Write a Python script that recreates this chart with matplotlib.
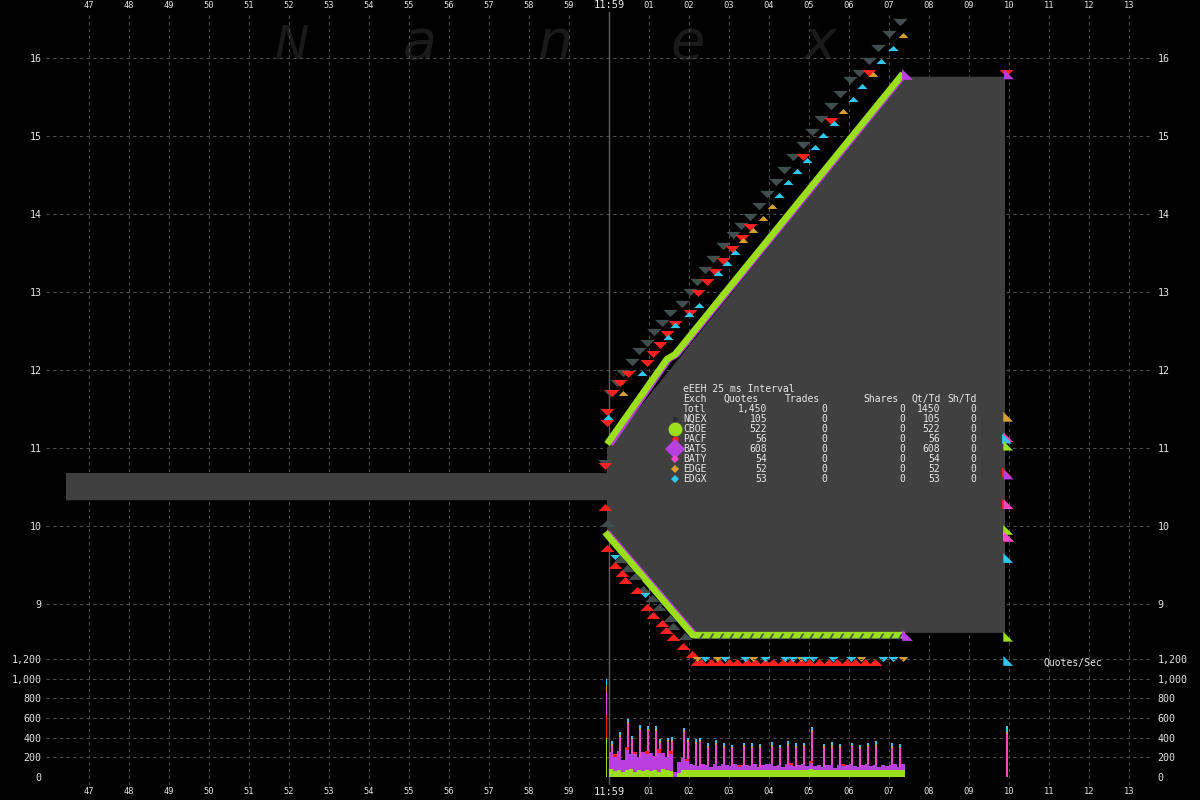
import numpy as np
import matplotlib
matplotlib.use('Agg')
import matplotlib.pyplot as plt
from matplotlib.ticker import FuncFormatter

plt.rcParams['font.family'] = ['DejaVu Sans Mono']

# exchange colours
COLORS = {
    'NQEX': '#424d4d',
    'CBOE': '#9ade1c',
    'PACF': '#ff2020',
    'BATS': '#b840e0',
    'BATY': '#ff44cc',
    'EDGE': '#d8a030',
    'EDGX': '#30c8f0',
}

# x axis: seconds around 11:59 (0 = "11:59" label)
x_ticks = list(range(-13, 14))
x_labels = ['47', '48', '49', '50', '51', '52', '53', '54', '55', '56', '57', '58', '59',
            '11:59', '01', '02', '03', '04', '05', '06', '07', '08', '09', '10', '11', '12', '13']
price_ticks = [9, 10, 11, 12, 13, 14, 15, 16]
vol_ticks = [0, 200, 400, 600, 800, 1000, 1200]

# NBBO spread (gray area)
nbo_t = [-13.575, -0.05, -0.05, 7.4, 9.9]
nbo_p = [10.68, 10.68, 11.0, 15.76, 15.76]
nbb_t = [-13.575, -0.05, -0.05, 2.15, 9.9]
nbb_p = [10.33, 10.33, 9.93, 8.63, 8.63]

# CBOE / BATS quote lines
cboe_ask_t = [-0.05, 1.45, 1.65, 7.35]
cboe_ask_p = [11.05, 12.14, 12.2, 15.8]
cboe_bid_t = [-0.1, 2.1, 7.4]
cboe_bid_p = [9.92, 8.6, 8.6]
bats_ask_t = [0.03, 1.5, 1.7, 7.4]
bats_ask_p = [11.05, 12.14, 12.2, 15.8]
bats_bid_t = [-0.05, 2.15, 7.4]
bats_bid_p = [9.92, 8.6, 8.6]

# NQEX quotes
nqex_ask_t = [-0.1, 0.025, 0.2, 0.35, 0.575, 0.75, 0.95, 1.125, 1.325, 1.525, 1.825, 2.025,
              2.2, 2.4, 2.6, 2.85, 3.1, 3.3, 3.525, 3.75, 3.95, 4.175, 4.375, 4.6, 4.85,
              5.075, 5.3, 5.55, 5.775, 6.025, 6.25, 6.5, 6.725, 7.0, 7.275]
nqex_ask_p = [10.81, 11.71, 11.83, 11.96, 12.10, 12.24, 12.35, 12.49, 12.60, 12.73, 12.85, 13.00,
              13.13, 13.28, 13.42, 13.59, 13.73, 13.85, 13.96, 14.10, 14.26, 14.41, 14.56, 14.73, 14.88,
              15.05, 15.22, 15.38, 15.54, 15.72, 15.81, 15.96, 16.13, 16.31, 16.46]
nqex_bid_t = [-0.05, 0.275, 0.45, 0.65, 0.85, 1.075, 1.25, 1.525, 1.6, 1.9]
nqex_bid_p = [10.04, 9.58, 9.46, 9.36, 9.19, 9.08, 8.96, 8.82, 8.72, 8.59]
nqex_flat_t = [2.3, 2.55, 2.8, 3.05, 3.3, 3.55, 3.8, 4.05, 4.3, 4.55, 4.8, 5.05, 5.3,
               5.55, 5.8, 6.05, 6.3, 6.55, 6.8, 7.05, 7.28]
nqex_flat_p = [8.59] * 21

# PACF quotes
pacf_ask_t = [-0.1, -0.05, -0.05, 0.075, 0.275, 0.475, 0.95, 1.1, 1.275, 1.45, 1.65, 2.025,
              2.225, 2.45, 2.65, 2.85, 3.075, 3.325, 3.525, 4.85, 5.55, 6.5, 9.92]
pacf_ask_p = [10.77, 11.46, 11.32, 11.71, 11.83, 11.95, 12.09, 12.21, 12.32, 12.46, 12.59, 12.73,
              12.99, 13.13, 13.26, 13.40, 13.55, 13.69, 13.83, 14.73, 15.19, 15.81, 15.81]
pacf_bid_t = [-0.1, -0.05, 0.15, 0.325, 0.4, 0.7, 0.95, 1.1, 1.325, 1.425, 1.6, 1.85, 2.075, 2.2,
              2.3, 2.55, 2.75, 3.0, 3.2, 3.45, 3.65, 3.9, 4.1, 4.35, 4.55, 4.8, 5.0, 5.25,
              5.5, 5.7, 5.95, 6.15, 6.4, 6.65]
pacf_bid_p = [10.24, 9.72, 9.50, 9.40, 9.31, 9.18, 8.96, 8.86, 8.76, 8.67, 8.58, 8.46, 8.36, 8.26,
              8.26, 8.26, 8.26, 8.26, 8.26, 8.26, 8.26, 8.26, 8.26, 8.26, 8.26, 8.26, 8.26, 8.26,
              8.26, 8.26, 8.26, 8.26, 8.26, 8.26]

# EDGX / EDGE quotes
edgx_ask_t = [-0.025, 0.825, 1.475, 1.65, 2.0, 2.25, 2.725, 2.95, 3.15, 4.25, 4.475, 4.7,
              4.95, 5.15, 5.35, 5.625, 6.1, 6.325, 6.8, 7.1]
edgx_ask_p = [11.40, 11.96, 12.42, 12.58, 12.72, 12.83, 13.24, 13.37, 13.51, 14.24, 14.41, 14.55,
              14.69, 14.86, 15.01, 15.17, 15.47, 15.64, 15.96, 16.13]
edgx_bid_t = [0.15, 0.9, 2.4, 2.9, 3.4, 3.9, 4.4, 4.6, 4.9, 5.1, 5.6, 6.05, 6.85, 7.1]
edgx_bid_p = [9.60, 9.12, 8.29, 8.29, 8.29, 8.29, 8.29, 8.29, 8.29, 8.29, 8.29, 8.29, 8.29, 8.29]
edge_ask_t = [0.35, 3.35, 3.6, 3.85, 4.075, 5.85, 6.6, 7.35]
edge_ask_p = [11.71, 13.67, 13.79, 13.95, 14.10, 15.32, 15.79, 16.29]
edge_bid_t = [2.2, 2.7, 3.6, 4.8, 6.3, 7.35]
edge_bid_p = [8.29, 8.29, 8.29, 8.29, 8.29, 8.29]

# last quotes near second 10
late_exch = ['EDGE', 'BATY', 'EDGX', 'CBOE', 'PACF', 'BATS', 'PACF', 'BATY',
             'CBOE', 'CBOE', 'BATY', 'EDGX', 'CBOE', 'EDGX', 'BATS']
late_t = [9.98, 9.98, 9.95, 9.98, 9.95, 9.99, 9.95, 9.99,
          9.98, 9.98, 10.0, 9.98, 9.98, 9.98, 10.0]
late_p = [11.40, 11.14, 11.12, 11.03, 10.69, 10.66, 10.28, 10.28,
          9.95, 9.87, 9.86, 9.59, 8.58, 8.27, 15.79]

# quotes per interval (0.1 s bins starting at 11:59)
cboe_vol = [80, 60, 75, 55, 70, 80, 50, 75, 65, 70,
            60, 75, 55, 80, 70, 65, 0, 40, 75, 70,
            75, 70, 75, 75, 70, 75, 75, 70, 75, 75,
            70, 75, 75, 70, 75, 75, 75, 70, 75, 75,
            75, 70, 75, 75, 75, 70, 75, 75, 70, 75,
            80, 75, 70, 75, 75, 75, 70, 75, 75, 75,
            75, 70, 75, 75, 75, 70, 75, 75, 75, 70,
            75, 75, 70, 75]
bats_vol = [170, 140, 190, 120, 200, 150, 180, 130, 190, 160,
            180, 140, 190, 160, 130, 170, 50, 110, 120, 90,
            60, 50, 40, 60, 50, 30, 60, 40, 55, 45,
            40, 60, 30, 55, 45, 40, 60, 35, 50, 60,
            55, 40, 50, 30, 60, 55, 40, 45, 60, 35,
            60, 40, 55, 30, 50, 45, 25, 50, 40, 45,
            55, 45, 30, 50, 55, 40, 45, 30, 50, 40,
            45, 55, 35, 55]
pacf_vol = [0, 30, 0, 0, 40, 0, 25, 0, 0, 30,
            0, 0, 35, 0, 0, 30, 0, 0, 0, 20,
            0, 0, 0, 0, 0, 0, 0, 0, 0, 0,
            0, 0, 20, 0, 0, 0, 0, 0, 0, 0,
            0, 0, 0, 0, 0, 15, 0, 0, 0, 0,
            20, 0, 0, 0, 0, 0, 0, 0, 15, 0,
            0, 0, 0, 0, 0, 0, 0, 0, 0, 0,
            0, 0, 0, 0]
spike_bin = [0, 2, 4, 5, 7, 9, 11, 12, 14, 15, 18, 19, 21, 22, 24, 26, 28, 30,
             33, 35, 37, 40, 42, 44, 46, 48, 50, 53, 55, 57, 60, 62, 64, 66, 70, 72]
spike_baty = [70, 140, 230, 155, 270, 210, 255, 70, 155, 90, 260, 180, 220, 240, 180, 190, 170, 185,
              180, 175, 190, 180, 170, 185, 180, 175, 300, 190, 180, 170, 185, 180, 175, 190, 180, 185]
spike_edge = [20, 25, 20, 15, 25, 20, 20, 15, 20, 25, 20, 15, 20, 20, 20, 25, 20, 15,
              20, 25, 20, 20, 15, 20, 25, 20, 20, 20, 25, 20, 15, 20, 20, 25, 20, 20]
spike_edgx = [25, 30, 25, 20, 30, 25, 25, 20, 25, 30, 25, 20, 25, 25, 25, 30, 25, 20,
              25, 30, 25, 25, 20, 25, 30, 25, 30, 25, 30, 25, 20, 25, 25, 30, 25, 25]
extra_t = [-0.06, 9.95]
extra_cboe = [400, 0]
extra_pacf = [230, 0]
extra_baty = [235, 440]
extra_edge = [60, 20]
extra_edgx = [75, 60]

# legend table
leg_exch = ['NQEX', 'CBOE', 'PACF', 'BATS', 'BATY', 'EDGE', 'EDGX']
leg_quotes = [105, 522, 56, 608, 54, 52, 53]

DOWN = [(-1, 0.5), (1, 0.5), (0, -0.5)]
UP = [(-1, -0.5), (1, -0.5), (0, 0.5)]
CORNER = [(-0.5, -0.5), (0.5, -0.5), (-0.5, 0.5)]
SLASH = [(-0.5, -0.5), (-0.15, -0.5), (0.5, 0.5), (0.15, 0.5)]

fig = plt.figure(figsize=(12, 8), dpi=100, facecolor='black')
L, W = 46 / 1200, 1107 / 1200

# background overlay for watermark
bg = fig.add_axes([0, 0, 1, 1], zorder=-1)
bg.set_xlim(0, 1200)
bg.set_ylim(800, 0)
bg.axis('off')
for ch, xc, fs in zip('Nanex', [292, 420, 555, 688, 820], [33, 40, 40, 40, 40]):
    bg.text(xc, 59, ch, ha='center', va='baseline', fontsize=fs, style='italic',
            family='DejaVu Sans', color='#1a1a1a')

# price axes
ax = fig.add_axes([L, 1 - 785 / 800, W, 773 / 800], facecolor='none')
ax.set_xlim(-14.075, 13.6)
ax.set_ylim(6.679, 16.59)
for s in ax.spines.values():
    s.set_visible(False)
ax.set_xticks(x_ticks)
ax.set_xticklabels(x_labels)
ax.set_yticks(price_ticks)
ax.tick_params(axis='x', length=0, top=False, bottom=False, labeltop=False, labelbottom=True,
               labelsize=6.3, labelcolor='#e6e6e6', pad=1.6)
ax.tick_params(axis='y', length=0, left=False, right=False, labelleft=True, labelright=True,
               labelsize=7.2, labelcolor='#e6e6e6', pad=3.3)
for lab in ax.get_xticklabels():
    if lab.get_text() == '11:59':
        lab.set_fontsize(7.5)
# top time labels
for t, lab in zip(x_ticks, x_labels):
    ax.text(t, 1.0085, lab, transform=ax.get_xaxis_transform(), ha='center', va='center',
            fontsize=7.5 if lab == '11:59' else 6.3, color='#e6e6e6', clip_on=False)
ax.grid(True, color='#4d4d4d', linestyle=(0, (3, 3)), linewidth=0.8)
ax.set_axisbelow(True)
ax.axvline(0, color='#5e5e5e', lw=1.0, zorder=0.8)

ax.fill(nbo_t + nbb_t[::-1], nbo_p + nbb_p[::-1], color='#404040', lw=0, zorder=1)

ax.plot(bats_ask_t, bats_ask_p, color=COLORS['BATS'], lw=4.5, solid_capstyle='butt', zorder=2)
ax.plot(bats_bid_t, bats_bid_p, color=COLORS['BATS'], lw=4.5, solid_capstyle='butt', zorder=2)
ax.plot(cboe_ask_t, cboe_ask_p, color=COLORS['CBOE'], lw=4.8, solid_capstyle='butt', zorder=2.1)
ax.plot(cboe_bid_t, cboe_bid_p, color=COLORS['CBOE'], lw=4.8, solid_capstyle='butt', zorder=2.1)

ax.scatter(nqex_flat_t, nqex_flat_p, marker=SLASH, s=18, color=COLORS['NQEX'], lw=0, zorder=2.2)
ax.scatter(nqex_ask_t, nqex_ask_p, marker=DOWN, s=110, color=COLORS['NQEX'], lw=0, zorder=3)
ax.scatter(nqex_bid_t, nqex_bid_p, marker=UP, s=110, color=COLORS['NQEX'], lw=0, zorder=3)
ax.scatter(pacf_ask_t, pacf_ask_p, marker=DOWN, s=100, color=COLORS['PACF'], lw=0, zorder=3.1)
ax.scatter(pacf_bid_t, pacf_bid_p, marker=UP, s=100, color=COLORS['PACF'], lw=0, zorder=3.1)
ax.scatter(edge_ask_t, edge_ask_p, marker=UP, s=50, color=COLORS['EDGE'], lw=0, zorder=3.2)
ax.scatter(edge_bid_t, edge_bid_p, marker=DOWN, s=50, color=COLORS['EDGE'], lw=0, zorder=3.2)
ax.scatter(edgx_ask_t, edgx_ask_p, marker=UP, s=55, color=COLORS['EDGX'], lw=0, zorder=3.3)
ax.scatter(edgx_bid_t, edgx_bid_p, marker=DOWN, s=55, color=COLORS['EDGX'], lw=0, zorder=3.3)
ax.scatter([7.45, 7.45], [15.8, 8.6], marker=CORNER, s=60, color=COLORS['BATS'], lw=0, zorder=3.4)
ax.scatter(late_t, late_p, marker=CORNER, s=50, color=[COLORS[e] for e in late_exch],
           lw=0, zorder=3.4)

# quotes / sec axes
vx = fig.add_axes([L, 1 - 777 / 800, W, 118 / 800], facecolor='none')
vx.set_xlim(-14.075, 13.6)
vx.set_ylim(0, 1200)
for s in vx.spines.values():
    s.set_visible(False)
vx.set_xticks([])
vx.set_yticks(vol_ticks)
vx.yaxis.set_major_formatter(FuncFormatter(lambda v, p: f'{int(v):,}'))
vx.tick_params(axis='y', length=0, left=False, right=False, labelleft=True, labelright=True,
               labelsize=7.2, labelcolor='#e6e6e6', pad=3.3)
vx.grid(True, axis='y', color='#4d4d4d', linestyle=(0, (3, 3)), linewidth=0.8)
vx.set_axisbelow(True)

vt = np.arange(len(cboe_vol)) * 0.1 + 0.05
g = np.array(cboe_vol)
b = np.array(bats_vol)
r = np.array(pacf_vol)
vx.bar(vt, g, width=0.085, color=COLORS['CBOE'], lw=0)
vx.bar(vt, b, bottom=g, width=0.085, color=COLORS['BATS'], lw=0)
vx.bar(vt, r, bottom=g + b, width=0.085, color=COLORS['PACF'], lw=0)
st = vt[spike_bin] + 0.02
base = (g + b + r)[spike_bin]
sb = np.array(spike_baty)
se = np.array(spike_edge)
vx.bar(st, sb, bottom=base, width=0.035, color=COLORS['BATY'], lw=0)
vx.bar(st, se, bottom=base + sb, width=0.035, color=COLORS['EDGE'], lw=0)
vx.bar(st, spike_edgx, bottom=base + sb + se, width=0.035, color=COLORS['EDGX'], lw=0)

bot = np.zeros(len(extra_t))
for vals, ex in [(extra_cboe, 'CBOE'), (extra_pacf, 'PACF'), (extra_baty, 'BATY'),
                 (extra_edge, 'EDGE'), (extra_edgx, 'EDGX')]:
    vx.bar(extra_t, vals, bottom=bot, width=0.04, color=COLORS[ex], lw=0)
    bot = bot + np.array(vals)

# foreground overlay: legend table and label
fg = fig.add_axes([0, 0, 1, 1], zorder=5)
fg.set_xlim(0, 1200)
fg.set_ylim(800, 0)
fg.axis('off')
tc = '#e8e8e8'
fs = 7
fg.text(683, 389, 'eEEH 25 ms Interval', fontsize=fs, color=tc, va='center')
hdr_y = 399
fg.text(683, hdr_y, 'Exch', fontsize=fs, color=tc, va='center')
for txt, xl in [('Quotes', 724), ('Trades', 785), ('Shares', 863), ('Qt/Td', 911), ('Sh/Td', 947)]:
    fg.text(xl, hdr_y, txt, fontsize=fs, color=tc, va='center')

rows = [('Totl', f'{sum(leg_quotes):,}', sum(leg_quotes))] + \
       [(e, str(q), q) for e, q in zip(leg_exch, leg_quotes)]
for i, (name, qtxt, q) in enumerate(rows):
    y = 409 + 10 * i
    fg.text(683, y, name, fontsize=fs, color=tc, va='center')
    fg.text(767, y, qtxt, fontsize=fs, color=tc, va='center', ha='right')
    fg.text(827, y, '0', fontsize=fs, color=tc, va='center', ha='right')
    fg.text(905, y, '0', fontsize=fs, color=tc, va='center', ha='right')
    fg.text(940, y, str(q), fontsize=fs, color=tc, va='center', ha='right')
    fg.text(976, y, '0', fontsize=fs, color=tc, va='center', ha='right')

leg_marker = ['o', 'o', 'o', 'D', 'D', 'D', 'D']
leg_ms = [4, 10, 4.5, 10, 4.5, 4.5, 4.5]
leg_col = ['#303030', COLORS['CBOE'], COLORS['PACF'], COLORS['BATS'], COLORS['BATY'],
           COLORS['EDGE'], COLORS['EDGX']]
for i, (m, ms, c) in enumerate(zip(leg_marker, leg_ms, leg_col)):
    fg.plot(675, 419 + 10 * i, marker=m, ms=ms, color=c, mew=0, ls='none')

fg.text(1044, 663, 'Quotes/Sec', fontsize=fs, color=tc, va='center')

fig.savefig('out.png', dpi=100, facecolor='black')
